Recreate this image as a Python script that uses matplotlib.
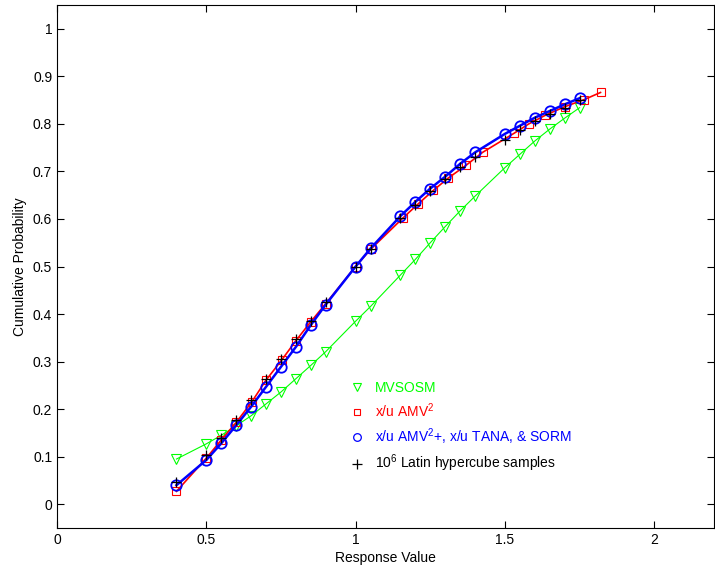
import matplotlib
matplotlib.use('Agg')
import matplotlib.pyplot as plt
from matplotlib.lines import Line2D

plt.rcParams['font.family'] = ['Liberation Sans', 'DejaVu Sans']
plt.rcParams['mathtext.fontset'] = 'custom'
plt.rcParams['mathtext.rm'] = 'Liberation Sans'
plt.rcParams['mathtext.it'] = 'Liberation Sans'

# response values shared by MVSOSM, AMV2+/TANA/SORM and LHS
x_grid = [0.4, 0.5, 0.55, 0.6, 0.65, 0.7, 0.75, 0.8, 0.85, 0.9, 1.0, 1.05,
          1.15, 1.2, 1.25, 1.3, 1.35, 1.4, 1.5, 1.55, 1.6, 1.65, 1.7, 1.75]

mvsosm = [0.095, 0.127, 0.145, 0.165, 0.186, 0.211, 0.236, 0.264, 0.292, 0.321, 0.385, 0.416,
          0.482, 0.515, 0.550, 0.584, 0.617, 0.648, 0.708, 0.736, 0.764, 0.789, 0.812, 0.834]

amv2plus = [0.040, 0.093, 0.128, 0.166, 0.205, 0.247, 0.289, 0.331, 0.377, 0.420, 0.500, 0.538,
            0.606, 0.636, 0.664, 0.689, 0.716, 0.740, 0.779, 0.796, 0.813, 0.827, 0.841, 0.854]

lhs = [0.046, 0.103, 0.140, 0.178, 0.220, 0.263, 0.305, 0.347, 0.386, 0.425, 0.500, 0.536,
       0.602, 0.630, 0.658, 0.685, 0.709, 0.730, 0.766, 0.787, 0.805, 0.820, 0.834, 0.850]

# x/u AMV2
amv2_x = [0.4, 0.5, 0.55, 0.6, 0.652, 0.7, 0.752, 0.8, 0.85, 0.9, 1.0, 1.05,
          1.16, 1.21, 1.26, 1.31, 1.37, 1.425, 1.53, 1.58, 1.635, 1.70, 1.765, 1.82]
amv2_y = [0.027, 0.097, 0.135, 0.172, 0.215, 0.261, 0.303, 0.344, 0.384, 0.422, 0.500, 0.536,
          0.603, 0.632, 0.660, 0.686, 0.713, 0.740, 0.780, 0.800, 0.818, 0.836, 0.851, 0.866]

labels = ['MVSOSM', 'x/u AMV$^2$', 'x/u AMV$^2$+, x/u TANA, & SORM',
          '10$^6$ Latin hypercube samples']
xticks = [0, 0.5, 1, 1.5, 2]
xticklabels = ['0', '0.5', '1', '1.5', '2']
yticks = [0, 0.1, 0.2, 0.3, 0.4, 0.5, 0.6, 0.7, 0.8, 0.9, 1]
yticklabels = ['0', '0.1', '0.2', '0.3', '0.4', '0.5', '0.6', '0.7', '0.8', '0.9', '1']

fig = plt.figure(figsize=(7.15, 5.71), dpi=100)
ax = fig.add_axes([57 / 715, 43 / 571, 657 / 715, 523 / 571])

ax.plot(x_grid, mvsosm, color=(0, 1, 0), lw=0.8, marker='v', ms=7.5,
        mfc='none', mec=(0, 1, 0), mew=0.8)
ax.plot(amv2_x, amv2_y, color='red', lw=1.2, marker='s', ms=6,
        mfc='none', mec='red', mew=0.8)
ax.plot(x_grid, amv2plus, color='blue', lw=1.8, marker='o', ms=7.5,
        mfc='none', mec='blue', mew=1.3)
ax.plot(x_grid, lhs, color='black', ls='none', marker='+', ms=7.5, mew=0.9)

handles = [
    Line2D([], [], ls='none', marker='v', ms=6, mfc='none', mec=(0, 1, 0), mew=0.8),
    Line2D([], [], ls='none', marker='s', ms=5, mfc='none', mec='red', mew=0.8),
    Line2D([], [], ls='none', marker='o', ms=5.5, mfc='none', mec='blue', mew=0.9),
    Line2D([], [], ls='none', marker='+', ms=6.5, mec='black', mew=0.9),
]
leg = ax.legend(handles, labels, loc='upper left', bbox_to_anchor=(0.437, 0.292),
                frameon=False, fontsize=10, handlelength=1.0, handletextpad=0.8,
                labelspacing=0.45, borderaxespad=0)
for txt, c in zip(leg.get_texts(), [(0, 1, 0), 'red', 'blue', 'black']):
    txt.set_color(c)

ax.set_xlim(0, 2.2)
ax.set_ylim(-0.05, 1.05)
ax.set_xticks(xticks)
ax.set_xticklabels(xticklabels)
ax.set_yticks(yticks)
ax.set_yticklabels(yticklabels)
ax.tick_params(direction='in', top=True, right=True, length=5, width=0.8, labelsize=10)
for s in ax.spines.values():
    s.set_linewidth(0.8)
ax.set_xlabel('Response Value', fontsize=10, labelpad=3)
ax.set_ylabel('Cumulative Probability', fontsize=10, labelpad=4)

fig.savefig('out.png', dpi=100)
